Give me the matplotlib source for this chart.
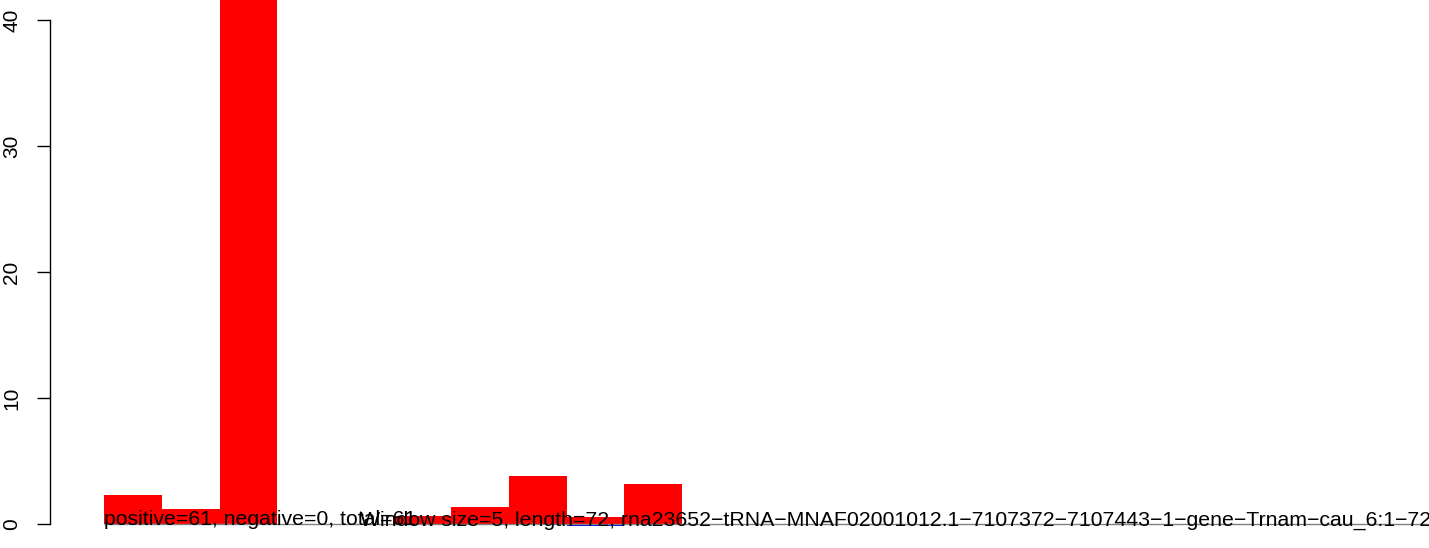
import matplotlib
matplotlib.use("Agg")
import matplotlib.pyplot as plt

plt.rcParams['font.family'] = ['Liberation Sans', 'DejaVu Sans']

# window values (red = positive part, blue = negative part)
pos_values = [2.3, 1.2, 48.0, 0, 0, 0.63, 1.35, 3.8, 0.56, 3.17, 0, 0, 0, 0]
neg_values = [0, 0, 0, 0, 0, 0, 0, 0, -0.15, 0, 0, 0, 0, 0]
y_ticks = [0, 10, 20, 30, 40]
info_text = "positive=61, negative=0, total=61"
title_text = ("Window size=5, length=72, rna23652\u2212tRNA\u2212MNAF02001012.1\u22127107372"
              "\u22127107443\u22121\u2212gene\u2212Trnam\u2212cau_6:1\u221272")

fig = plt.figure(figsize=(14.29, 5.48), dpi=100)
ax = fig.add_axes([0, 0, 1, 1])
ax.patch.set_alpha(0)

x = list(range(len(pos_values)))
ax.bar(x, pos_values, width=1.0, align='edge', color='#ff0000', linewidth=0)
ax.bar(x, neg_values, width=1.0, align='edge', color='#0000ff', linewidth=0)
ax.hlines(0, 0, 30, color='#808080', linewidth=1.0)

# both labels sit on the baseline, overlapping as in the original R plot
ax.text(0, -0.1, info_text, fontsize=15.35, va='baseline', ha='left')
ax.text(4.43, -0.1, title_text, fontsize=15.35, va='baseline', ha='left')

# pixel mapping: bar width 57.8px starting at x=104, y=0 at 524px, 12.6px per unit
ax.set_xlim(-1.8, 22.92)
ax.set_ylim(-1.905, 41.59)

for s in ['top', 'right', 'bottom']:
    ax.spines[s].set_visible(False)
ax.spines['left'].set_position(('data', -0.934))
ax.spines['left'].set_bounds(0, 40)
ax.spines['left'].set_linewidth(1.0)
ax.set_xticks([])
ax.set_yticks(y_ticks)
ax.set_yticklabels([str(t) for t in y_ticks], rotation=90, va='center', fontsize=15)
ax.tick_params(axis='y', length=9.4, width=1.0, pad=11.5)

fig.savefig('out.png', dpi=100)
